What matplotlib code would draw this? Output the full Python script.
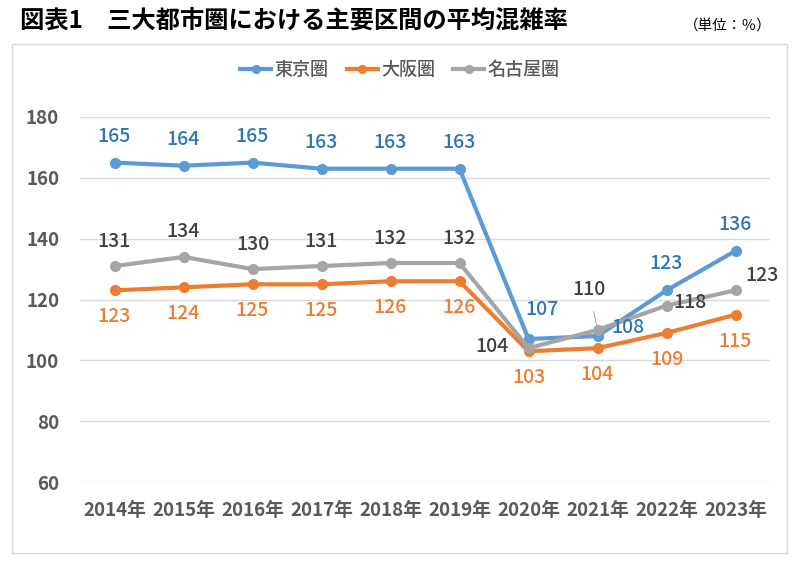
import matplotlib.pyplot as plt
from matplotlib.patches import Rectangle

plt.rcParams['font.family'] = ['Noto Sans CJK JP', 'DejaVu Sans']

years = ['2014年', '2015年', '2016年', '2017年', '2018年',
         '2019年', '2020年', '2021年', '2022年', '2023年']
tokyo = [165, 164, 165, 163, 163, 163, 107, 108, 123, 136]
osaka = [123, 124, 125, 125, 126, 126, 103, 104, 109, 115]
nagoya = [131, 134, 130, 131, 132, 132, 104, 110, 118, 123]
series_names = ['東京圏', '大阪圏', '名古屋圏']

line_colors = ['#5B9BD5', '#ED7D31', '#A5A5A5']
label_colors = ['#2E75B6', '#ED7D31', '#404040']

fig = plt.figure(figsize=(8, 5.66), dpi=100)

# outer frame of the chart area
fig.patches.append(Rectangle((12 / 800, 1 - 553 / 566), 775 / 800, 509 / 566,
                             transform=fig.transFigure, fill=False,
                             ec='#D9D9D9', lw=1))

ax = fig.add_axes([80 / 800, 1 - 482 / 566, 690 / 800, 365 / 566])
x = list(range(len(years)))

for i, (vals, name, c) in enumerate(zip([tokyo, osaka, nagoya], series_names, line_colors)):
    ax.plot(x, vals, color=c, lw=3, marker='o', ms=7, label=name, zorder=3 + i)

ax.set_xlim(-0.5, len(years) - 0.5)
ax.set_ylim(60, 180)
ax.set_yticks(range(60, 181, 20))
ax.set_xticks(x)
ax.set_xticklabels(years)
ax.grid(axis='y', color='#D9D9D9', lw=1)
ax.set_axisbelow(True)
for s in ax.spines.values():
    s.set_visible(False)
ax.tick_params(length=0, labelsize=13.5, labelcolor='#595959')
ax.tick_params(axis='y', pad=15)
ax.tick_params(axis='x', pad=14)
for lab in ax.get_xticklabels() + ax.get_yticklabels():
    lab.set_fontweight('bold')

# data labels (offset in points)
def put(i, v, color, dx, dy, leader=False):
    ax.annotate(str(v), (i, v), xytext=(dx, dy), textcoords='offset points',
                ha='center', va='center', color=color, fontsize=14,
                fontweight='medium',
                arrowprops=dict(arrowstyle='-', color='#A6A6A6', lw=0.7,
                                shrinkA=7, shrinkB=3) if leader else None,
                zorder=10)

for i, v in enumerate(tokyo):
    if i == 6:
        put(i, v, label_colors[0], 10, 21)
    elif i == 7:
        put(i, v, label_colors[0], 22, 6)
    else:
        put(i, v, label_colors[0], 0, 19)

for i, v in enumerate(osaka):
    put(i, v, label_colors[1], 0, -19)

for i, v in enumerate(nagoya):
    if i == 6:
        put(i, v, label_colors[2], -26, 1, leader=True)
    elif i == 7:
        put(i, v, label_colors[2], -6, 29, leader=True)
    elif i == 8:
        put(i, v, label_colors[2], 17, 2)
    elif i == 9:
        put(i, v, label_colors[2], 19, 11)
    else:
        put(i, v, label_colors[2], 0, 18)

leg = fig.legend(loc='center', bbox_to_anchor=(0.5, 1 - 70 / 566), ncol=3,
                 frameon=False, fontsize=13, handlelength=1.7,
                 columnspacing=1.0, handletextpad=0.2, markerscale=0.8)
for t in leg.get_texts():
    t.set_color('#595959')
    t.set_fontweight('medium')

fig.text(20 / 800, 1 - 22 / 566, '図表1　三大都市圏における主要区間の平均混雑率',
         fontsize=17.5, fontweight='bold', va='center', ha='left', color='#000000')
fig.text(772 / 800, 1 - 26 / 566, '（単位：％）', fontsize=10.5,
         va='center', ha='right', color='#000000')

fig.savefig('out.png', dpi=100)
